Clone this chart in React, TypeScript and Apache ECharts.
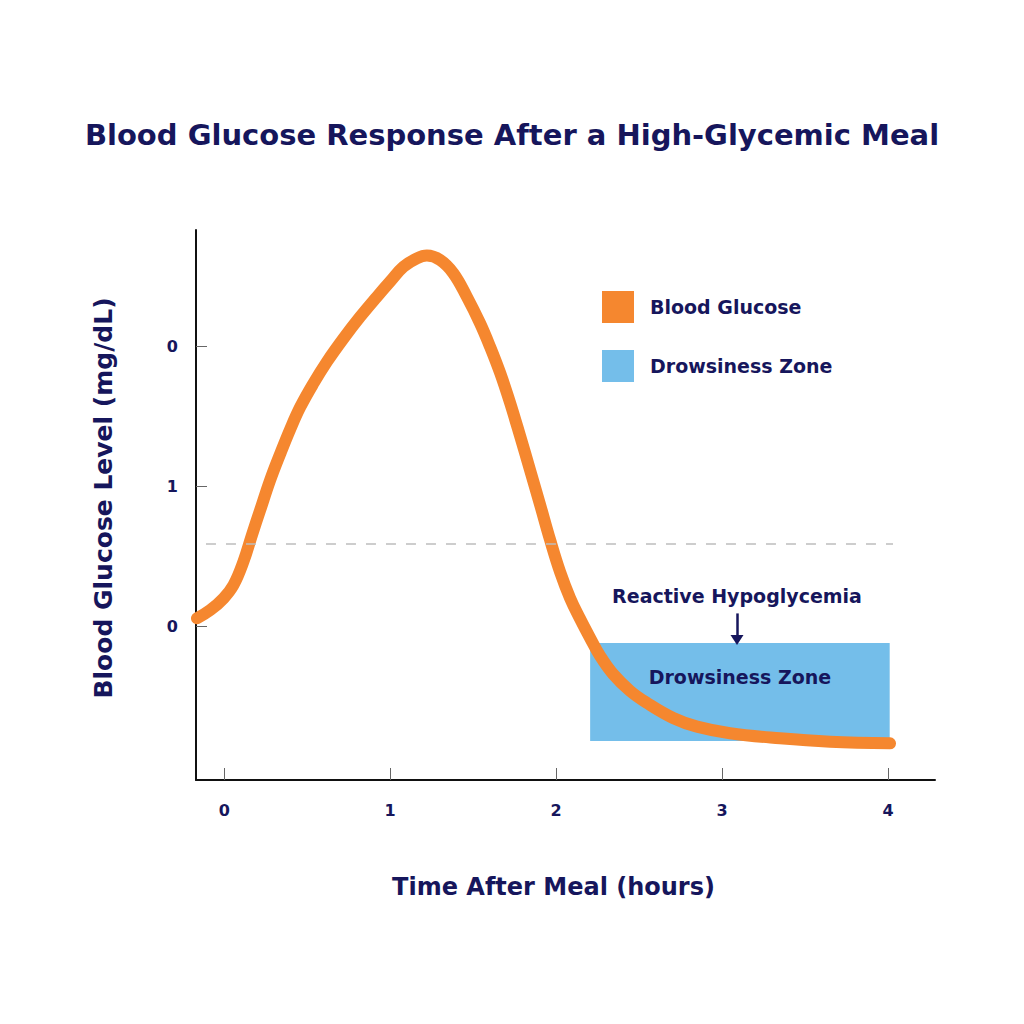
import React, { useEffect, useRef } from "react";
import * as echarts from "echarts";

const title = "Blood Glucose Response After a High-Glycemic Meal";
const xAxisName = "Time After Meal (hours)";
const yAxisName = "Blood Glucose Level (mg/dL)";

const xTicks = [0, 1, 2, 3, 4];
const xTickLabels = ["0", "1", "2", "3", "4"];
const yTicks = [0, 1, 2];
const yTickLabels = ["0", "1", "0"];

// Blood glucose curve: hours and level
const glucoseX = [-0.164, -0.084, -0.004, 0.056, 0.116, 0.167, 0.217, 0.277, 0.337, 0.398, 0.458, 0.538, 0.619, 0.719, 0.819, 0.92, 1.0, 1.08, 1.161, 1.221, 1.301, 1.381, 1.462, 1.542, 1.602, 1.663, 1.723, 1.783, 1.843, 1.904, 1.964, 2.024, 2.084, 2.145, 2.205, 2.265, 2.343, 2.446, 2.548, 2.705, 2.849, 3.048, 3.349, 3.651, 4.012];
const glucoseY = [0.055, 0.114, 0.198, 0.293, 0.461, 0.65, 0.829, 1.043, 1.229, 1.407, 1.564, 1.734, 1.888, 2.055, 2.209, 2.352, 2.461, 2.566, 2.626, 2.646, 2.614, 2.519, 2.352, 2.162, 1.995, 1.807, 1.593, 1.357, 1.114, 0.864, 0.614, 0.386, 0.2, 0.05, -0.086, -0.214, -0.343, -0.464, -0.55, -0.657, -0.719, -0.766, -0.802, -0.826, -0.838];

const thresholdLevel = 0.586;
const thresholdRange = [-0.11, 4.03];

const zoneX = [2.205, 4.01];
const zoneY = [-0.121, -0.821];

const arrowX = 3.09;
const arrowY = [0.09, -0.1];

const NAVY = "#16165c";
const ORANGE = "#F5872F";
const BLUE = "#74BEEA";
const FONT = "DejaVu Sans";

export default function App() {
  const ref = useRef<HTMLDivElement>(null);
  useEffect(() => {
    if (!ref.current) return;
    const chart = echarts.init(ref.current, undefined, { renderer: "svg" });
    chart.setOption({
      animation: false,
      backgroundColor: "#ffffff",
      title: {
        text: title,
        left: "center",
        top: 115,
        textStyle: { color: NAVY, fontSize: 29, fontWeight: "bold", fontFamily: FONT },
      },
      legend: {
        orient: "vertical",
        left: 597,
        top: 286,
        itemWidth: 32,
        itemHeight: 32,
        itemGap: 27,
        icon: "rect",
        textStyle: { color: NAVY, fontSize: 19, fontWeight: "bold", fontFamily: FONT, padding: [0, 0, 0, 11] },
        data: [
          { name: "Blood Glucose", itemStyle: { color: ORANGE } },
          { name: "Drowsiness Zone", itemStyle: { color: BLUE } },
        ],
      },
      grid: { left: 196, top: 230, width: 739, height: 550, containLabel: false },
      xAxis: {
        type: "value",
        min: -0.17,
        max: 4.283,
        name: xAxisName,
        nameLocation: "middle",
        nameGap: 95,
        nameTextStyle: { color: NAVY, fontSize: 24, fontWeight: "bold", fontFamily: FONT, verticalAlign: "top", padding: [0, 24, 0, 0] },
        axisLine: { show: true, onZero: false, lineStyle: { color: "#111", width: 2 } },
        axisTick: { show: true, inside: true, length: 12, customValues: xTicks, lineStyle: { color: "#666", width: 1 } },
        axisLabel: {
          show: true,
          customValues: xTicks,
          margin: 22,
          color: NAVY,
          fontSize: 16,
          fontWeight: "bold",
          fontFamily: FONT,
          formatter: (v: number) => xTickLabels[xTicks.indexOf(Math.round(v))] ?? "",
        },
        splitLine: { show: false },
      },
      yAxis: {
        type: "value",
        min: -1.1,
        max: 2.829,
        name: yAxisName,
        nameLocation: "middle",
        nameGap: 80,
        nameTextStyle: { color: NAVY, fontSize: 25, fontWeight: "bold", fontFamily: FONT, padding: [0, 0, 0, 14] },
        axisLine: { show: true, onZero: false, lineStyle: { color: "#111", width: 2 } },
        axisTick: { show: true, inside: true, length: 11, customValues: yTicks, lineStyle: { color: "#666", width: 1 } },
        axisLabel: {
          show: true,
          customValues: yTicks,
          margin: 18,
          color: NAVY,
          fontSize: 16,
          fontWeight: "bold",
          fontFamily: FONT,
          formatter: (v: number) => yTickLabels[yTicks.indexOf(Math.round(v))] ?? "",
        },
        splitLine: { show: false },
      },
      series: [
        {
          name: "Drowsiness Zone",
          type: "line",
          data: [],
          itemStyle: { color: BLUE },
          z: 1,
          markArea: {
            silent: true,
            itemStyle: { color: BLUE, opacity: 1 },
            label: {
              show: true,
              position: "insideTop",
              distance: 25,
              color: NAVY,
              fontSize: 19,
              fontWeight: "bold",
              fontFamily: FONT,
            },
            data: [[{ name: "Drowsiness Zone", coord: [zoneX[0], zoneY[0]] }, { coord: [zoneX[1], zoneY[1]] }]],
          },
          markLine: {
            silent: true,
            symbol: "none",
            data: [
              [
                { coord: [thresholdRange[0], thresholdLevel], lineStyle: { color: "#bdbdbd", width: 1.5, type: [10, 10] }, label: { show: false } },
                { coord: [thresholdRange[1], thresholdLevel] },
              ],
              [
                {
                  coord: [arrowX, arrowY[0]],
                  symbol: "none",
                  lineStyle: { color: NAVY, width: 2.5, type: "solid" },
                  label: {
                    show: true,
                    position: "start",
                    distance: 8,
                    formatter: "Reactive Hypoglycemia",
                    color: NAVY,
                    fontSize: 19,
                    fontWeight: "bold",
                    fontFamily: FONT,
                  },
                },
                { coord: [arrowX, arrowY[1]], symbol: "triangle", symbolSize: [13, 10] },
              ],
            ],
          },
        },
        {
          name: "Blood Glucose",
          type: "line",
          smooth: 0.4,
          showSymbol: false,
          clip: false,
          z: 3,
          itemStyle: { color: ORANGE },
          lineStyle: { color: ORANGE, width: 12, cap: "round", join: "round" },
          data: glucoseX.map((x, i) => [x, glucoseY[i]]),
        },
      ],
    });
    return () => chart.dispose();
  }, []);
  return <div ref={ref} style={{ position: "fixed", left: 0, top: 0, width: 1024, height: 1024 }} />;
}
